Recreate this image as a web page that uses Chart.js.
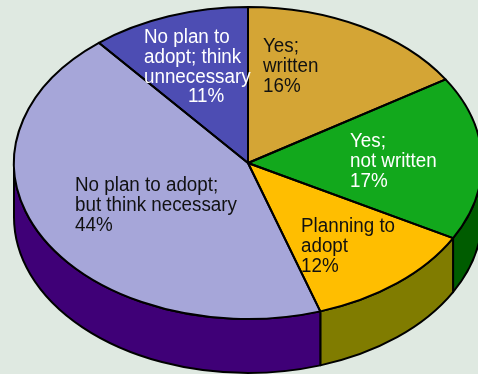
<!DOCTYPE html>
<html>
<head>
<meta charset="utf-8">
<script src="https://cdn.jsdelivr.net/npm/chart.js@4/dist/chart.umd.min.js"></script>
<style>
  html, body { margin: 0; padding: 0; background: #dfe9e1; }
  #wrap { position: relative; width: 478px; height: 374px; }
</style>
</head>
<body>
<div id="wrap"><canvas id="policyChart"></canvas></div>
<script>
// Slices, clockwise from 12 o'clock
const categories = ['Yes; written', 'Yes; not written', 'Planning to adopt',
                    'No plan to adopt; but think necessary', 'No plan to adopt; think unnecessary'];
const shares = [16, 17, 12, 44, 11];
const labelLines = [
    ['Yes;', 'written'],
    ['Yes;', 'not written'],
    ['Planning to', 'adopt'],
    ['No plan to adopt;', 'but think necessary'],
    ['No plan to', 'adopt; think', 'unnecessary']
];

const topColors  = ['#d4a535', '#12a81c', '#ffbe00', '#a6a6d9', '#4d4db3'];
const sideColors = ['#8a6a1a', '#005c00', '#807c00', '#3f0077', '#2a2a70'];

// where each label's text block starts (left edge, first baseline)
const labelSpots = [
    { x: 263, y: 52,  color: '#111' },
    { x: 350, y: 147, color: '#fff' },
    { x: 301, y: 232, color: '#111' },
    { x: 75,  y: 191, color: '#111' },
    { x: 144, y: 43,  color: '#fff', lastDx: 44 }
];

// ellipse the round pie is squashed into, plus the height of the rim
const CX = 248, CY = 163, RX = 234, RY = 156, DEPTH = 54;

function toEllipse(ctx, a) {
    ctx.translate(CX, CY);
    ctx.scale(RX / a.outerRadius, RY / a.outerRadius);
    ctx.translate(-a.x, -a.y);
}

const pie3d = {
    id: 'pie3d',
    beforeDatasetsDraw(chart) {
        const ctx = chart.ctx;
        const arcs = chart.getDatasetMeta(0).data;
        ctx.lineWidth = 2;
        ctx.strokeStyle = '#000';
        ctx.lineJoin = 'round';
        // rim: only the part of each slice facing the viewer (0..PI)
        arcs.forEach((a, i) => {
            const s = Math.max(a.startAngle, 0);
            const e = Math.min(a.endAngle, Math.PI);
            if (e <= s) return;
            const d = DEPTH * a.outerRadius / RY;
            ctx.save();
            toEllipse(ctx, a);
            ctx.beginPath();
            ctx.arc(a.x, a.y, a.outerRadius, s, e);
            ctx.arc(a.x, a.y + d, a.outerRadius, e, s, true);
            ctx.closePath();
            ctx.fillStyle = sideColors[i];
            ctx.fill();
            ctx.restore();
            ctx.stroke();
        });
        ctx.save();
        toEllipse(ctx, arcs[0]);
    },
    afterDatasetsDraw(chart) {
        const ctx = chart.ctx;
        ctx.restore();
        // outline the top face with an even pen width
        chart.getDatasetMeta(0).data.forEach(a => {
            ctx.save();
            toEllipse(ctx, a);
            ctx.beginPath();
            ctx.moveTo(a.x, a.y);
            ctx.arc(a.x, a.y, a.outerRadius, a.startAngle, a.endAngle);
            ctx.closePath();
            ctx.restore();
            ctx.lineWidth = 2;
            ctx.strokeStyle = '#000';
            ctx.lineJoin = 'round';
            ctx.stroke();
        });
    },
    afterDraw(chart) {
        const ctx = chart.ctx;
        labelLines.forEach((lines, i) => {
            const spot = labelSpots[i];
            const all = lines.concat(shares[i] + '%');
            all.forEach((t, k) => {
                const dx = (k === all.length - 1 && spot.lastDx) ? spot.lastDx : 0;
                // slightly condensed face
                ctx.save();
                ctx.translate(spot.x + dx, spot.y + k * 19.8);
                ctx.scale(0.94, 1);
                ctx.font = '20px "Liberation Sans", Arial, sans-serif';
                ctx.textAlign = 'left';
                ctx.textBaseline = 'alphabetic';
                ctx.fillStyle = spot.color;
                ctx.fillText(t, 0, 0);
                ctx.restore();
            });
        });
    }
};

const ctx = document.getElementById('policyChart').getContext('2d');
const policyChart = new Chart(ctx, {
    type: 'pie',
    data: {
        labels: categories,
        datasets: [{
            data: shares,
            backgroundColor: topColors,
            borderWidth: 0,
            clip: false
        }]
    },
    options: {
        responsive: true,
        maintainAspectRatio: false,
        animation: false,
        events: [],
        layout: { padding: 0 },
        plugins: {
            legend: { display: false },
            tooltip: { enabled: false }
        }
    },
    plugins: [pie3d]
});
</script>
</body>
</html>
